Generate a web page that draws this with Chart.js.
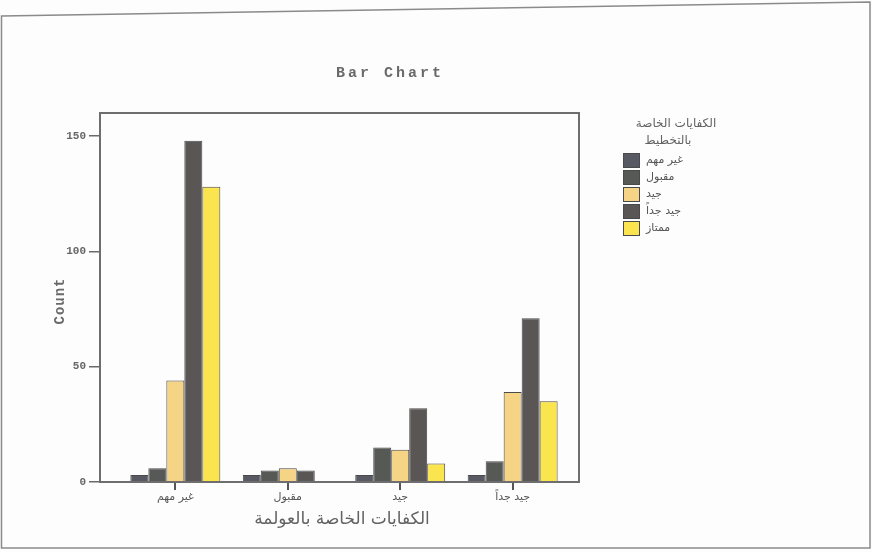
<!DOCTYPE html>
<html>
<head>
<meta charset="utf-8">
<script src="https://cdn.jsdelivr.net/npm/chart.js@4/dist/chart.umd.min.js"></script>
<style>
    html, body { margin: 0; padding: 0; background: #fdfdfd; }
    #wrap { width: 872px; height: 552px; position: relative; }
</style>
</head>
<body>
<div id="wrap"><canvas id="barChart" width="872" height="552"></canvas></div>
<script>
// categories on the x axis
const categories = ["غير مهم", "مقبول", "جيد", "جيد جداً"];
// legend groups (one series each)
const seriesNames = ["غير مهم", "مقبول", "جيد", "جيد جداً", "ممتاز"];
const seriesGhayrMuhim = [3, 3, 3, 3];
const seriesMaqbul = [6, 5, 15, 9];
const seriesJayyid = [44, 6, 14, 39];
const seriesJayyidJiddan = [148, 5, 32, 71];
const seriesMumtaz = [128, 0, 8, 35];
const yTicks = [0, 50, 100, 150];

const chartTitle = "Bar Chart";
const yTitle = "Count";
const xTitle = "الكفايات الخاصة بالعولمة";
const legendTitle = ["الكفايات الخاصة", "بالتخطيط"];

const colors = ["#585a63", "#565955", "#f5d486", "#5a5656", "#fbe54f"];
const allSeries = [seriesGhayrMuhim, seriesMaqbul, seriesJayyid, seriesJayyidJiddan, seriesMumtaz];

const datasets = allSeries.map((vals, i) => ({
    label: seriesNames[i],
    data: vals.map((v, k) => ({ x: k, y: v })),
    backgroundColor: colors[i],
    borderColor: "#4a4a4a",
    borderWidth: 1,
    barPercentage: 1,
    categoryPercentage: 0.8,
}));

const arabicFont = "'DejaVu Sans', sans-serif";
const monoFont = "'Liberation Mono', 'DejaVu Sans Mono', monospace";

// frame, titles and legend drawn around the library's chart area
const decorPlugin = {
    id: "decor",
    beforeDraw(chart) {
        const ctx = chart.ctx;
        ctx.save();
        ctx.fillStyle = "#fdfdfd";
        ctx.fillRect(0, 0, chart.width, chart.height);
        ctx.strokeStyle = "#8a8a8a";
        ctx.lineWidth = 1.5;
        ctx.beginPath();
        ctx.moveTo(1.5, 16);
        ctx.lineTo(870, 2);
        ctx.lineTo(870, 548);
        ctx.lineTo(1.5, 548);
        ctx.closePath();
        ctx.stroke();
        ctx.restore();
    },
    afterDraw(chart) {
        const ctx = chart.ctx;
        const a = chart.chartArea;
        ctx.save();
        // plot frame
        ctx.strokeStyle = "#6e6e6e";
        ctx.lineWidth = 2;
        ctx.strokeRect(a.left, a.top, a.right - a.left, a.bottom - a.top);

        // chart title
        ctx.fillStyle = "#6a6a6a";
        ctx.textAlign = "center";
        ctx.textBaseline = "middle";
        ctx.font = "bold 15px " + monoFont;
        ctx.letterSpacing = "3px";
        ctx.fillText(chartTitle, 390, 73);

        // y title
        ctx.save();
        ctx.translate(60, 301);
        ctx.rotate(-Math.PI / 2);
        ctx.font = "bold 14px " + monoFont;
        ctx.letterSpacing = "1px";
        ctx.fillText(yTitle, 0, 0);
        ctx.restore();
        ctx.letterSpacing = "0px";

        // x title
        ctx.fillStyle = "#626262";
        ctx.font = "17px " + arabicFont;
        ctx.fillText(xTitle, 342, 520);

        // legend
        ctx.fillStyle = "#626262";
        ctx.font = "12px " + arabicFont;
        ctx.fillText(legendTitle[0], 676, 124);
        ctx.fillText(legendTitle[1], 668, 141);
        ctx.textAlign = "left";
        ctx.font = "11px " + arabicFont;
        chart.data.datasets.forEach((ds, i) => {
            const y = 153 + i * 17;
            ctx.fillStyle = ds.backgroundColor;
            ctx.fillRect(623, y, 16, 14);
            ctx.strokeStyle = "#4a4a4a";
            ctx.lineWidth = 1;
            ctx.strokeRect(623.5, y + 0.5, 16, 14);
            ctx.fillStyle = "#555";
            ctx.fillText(ds.label, 646, y + 7);
        });
        ctx.restore();
    },
};

new Chart(document.getElementById("barChart").getContext("2d"), {
    type: "bar",
    data: { datasets },
    options: {
        responsive: false,
        animation: false,
        layout: { padding: { left: 0, top: 113, right: 293, bottom: 0 } },
        plugins: {
            legend: { display: false },
            title: { display: false },
            tooltip: { enabled: false },
        },
        scales: {
            x: {
                type: "linear",
                offset: false,
                min: -0.67,
                max: 3.59,
                afterBuildTicks: scale => {
                    scale.ticks = categories.map((c, i) => ({ value: i }));
                },
                afterFit: scale => { scale.height = 70; },
                ticks: {
                    callback: v => categories[v],
                    color: "#555",
                    font: { family: arabicFont, size: 11 },
                    padding: 1,
                    maxRotation: 0,
                    autoSkip: false,
                },
                grid: { offset: false, drawOnChartArea: false, drawTicks: true, tickLength: 8, color: "#555", lineWidth: 2 },
                border: { display: true, color: "#6e6e6e", width: 2 },
            },
            y: {
                min: 0,
                max: 160,
                afterBuildTicks: scale => {
                    scale.ticks = yTicks.map(v => ({ value: v }));
                },
                afterFit: scale => { scale.width = 100; },
                ticks: {
                    color: "#666",
                    font: { family: monoFont, size: 11, weight: "bold" },
                    padding: 3,
                },
                grid: { drawOnChartArea: false, tickLength: 11, color: "#6a6a6a", lineWidth: 1.5 },
                border: { display: true, color: "#6e6e6e", width: 2 },
            },
        },
    },
    plugins: [decorPlugin],
});
</script>
</body>
</html>
